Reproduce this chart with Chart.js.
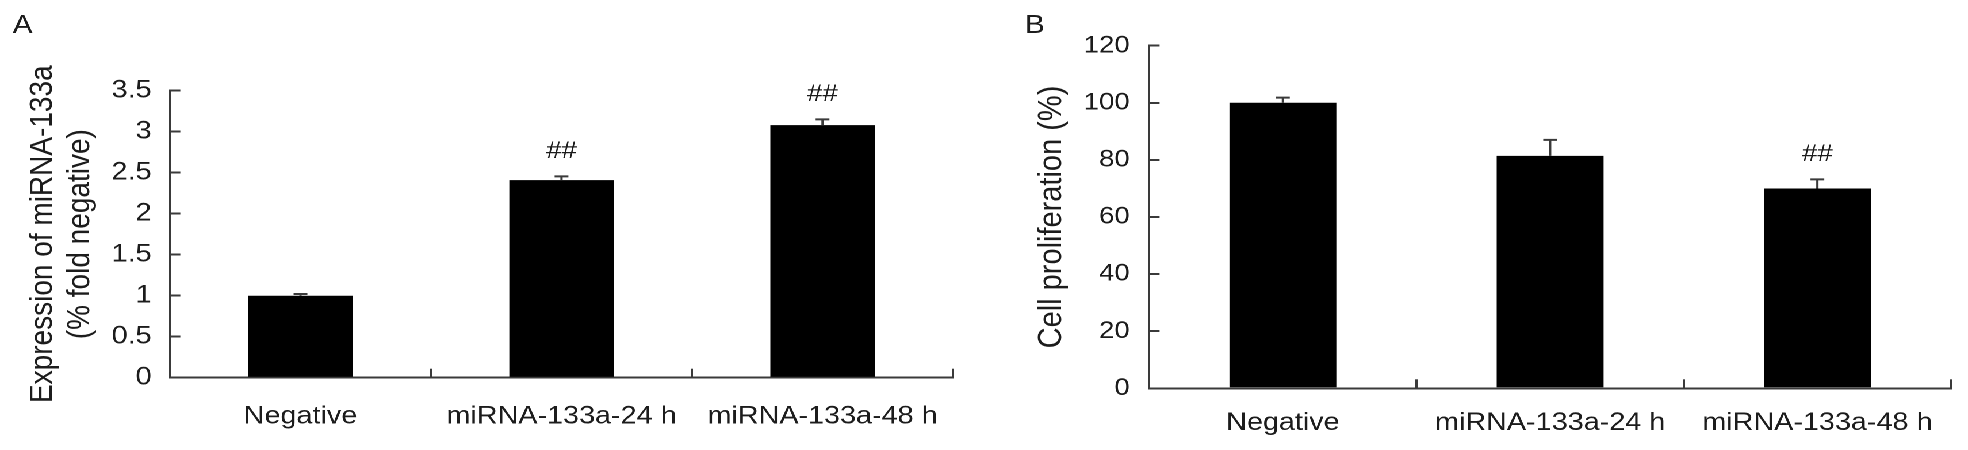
<!DOCTYPE html>
<html>
<head>
<meta charset="utf-8">
<script src="https://cdn.jsdelivr.net/npm/chart.js@4/dist/chart.umd.min.js"></script>
<style>
  html, body { margin: 0; padding: 0; background: #fff; }
  body { width: 1968px; height: 450px; overflow: hidden; }
  #wrap { position: absolute; left: 0; top: 0; width: 1711px; height: 450px;
          transform: scaleX(1.15020); transform-origin: 0 0; }
  #cA { position: absolute; left: 0; top: 0; width: 856px; height: 450px; }
  #cB { position: absolute; left: 856px; top: 0; width: 855px; height: 450px; }
</style>
</head>
<body>
<div id="wrap">
  <canvas id="cA" width="856" height="450"></canvas>
  <canvas id="cB" width="855" height="450"></canvas>
</div>
<script>
// ---- data ----
const categories = ['Negative', 'miRNA-133a-24 h', 'miRNA-133a-48 h'];

const expressionMeans  = [1.0, 2.41, 3.08];
const expressionErrors = [0.02, 0.045, 0.07];
const expressionMarks  = ['', '##', '##'];
const expressionTicks  = [0, 0.5, 1, 1.5, 2, 2.5, 3, 3.5];
const expressionTitle  = ['Expression of miRNA-133a', '(% fold negative)'];

const proliferationMeans  = [100, 81.4, 70];
const proliferationErrors = [1.8, 5.6, 3.2];
const proliferationMarks  = ['', '', '##'];
const proliferationTicks  = [0, 20, 40, 60, 80, 100, 120];
const proliferationTitle  = 'Cell proliferation (%)';

const panelLetters = ['A', 'B'];

// ---- style ----
const FONT = "'Liberation Sans', Arial, sans-serif";
const TEXT = '#1c1c1c';
const AXIS = '#3a3a3a';

const errorBarPlugin = {
  id: 'errorBars',
  afterDatasetsDraw(chart, args, opts) {
    const ctx = chart.ctx;
    const y = chart.scales.y;
    const meta = chart.getDatasetMeta(0);
    ctx.save();
    ctx.strokeStyle = AXIS;
    ctx.lineWidth = 2;
    meta.data.forEach((bar, i) => {
      const v = opts.means[i], e = opts.errors[i];
      const yTop = y.getPixelForValue(v + e);
      const yBase = y.getPixelForValue(v);
      ctx.beginPath();
      ctx.moveTo(bar.x, yBase);
      ctx.lineTo(bar.x, yTop);
      ctx.moveTo(bar.x - 6, yTop);
      ctx.lineTo(bar.x + 6, yTop);
      ctx.stroke();
      const mark = opts.marks[i];
      if (mark) {
        ctx.fillStyle = TEXT;
        ctx.font = `24px ${FONT}`;
        ctx.textAlign = 'center';
        ctx.textBaseline = 'middle';
        ctx.fillText(mark, bar.x, yTop - 25);
      }
    });
    ctx.restore();
  }
};

const letterPlugin = {
  id: 'panelLetter',
  afterDraw(chart, args, opts) {
    const ctx = chart.ctx;
    ctx.save();
    ctx.fillStyle = TEXT;
    ctx.font = `26px ${FONT}`;
    ctx.textAlign = 'left';
    ctx.textBaseline = 'alphabetic';
    ctx.fillText(opts.text, opts.x, opts.y);
    ctx.restore();
  }
};

function makeChart(canvasId, cfg) {
  return new Chart(document.getElementById(canvasId), {
    type: 'bar',
    data: {
      labels: categories,
      datasets: [{
        data: cfg.means,
        backgroundColor: '#000',
        borderWidth: 0,
        barPercentage: 0.4,
        categoryPercentage: 1.0
      }]
    },
    options: {
      responsive: false,
      animation: false,
      devicePixelRatio: 2,
      layout: { padding: { left: 0, top: cfg.top, right: cfg.right, bottom: 0 } },
      plugins: {
        legend: { display: false },
        tooltip: { enabled: false },
        errorBars: { means: cfg.means, errors: cfg.errors, marks: cfg.marks },
        panelLetter: { text: cfg.letter, x: cfg.letterX, y: 33 }
      },
      scales: {
        x: {
          afterFit: s => { s.height = 450 - cfg.bottom; },
          grid: { display: true, drawOnChartArea: false, drawTicks: true, tickLength: -9, color: AXIS, lineWidth: 2, offset: true },
          border: { display: true, color: AXIS, width: 2 },
          ticks: { color: TEXT, font: { family: FONT, size: 25 }, padding: cfg.xPad, maxRotation: 0, autoSkip: false }
        },
        y: {
          min: cfg.ticks[0],
          max: cfg.ticks[cfg.ticks.length - 1],
          afterFit: s => { s.width = cfg.left; },
          afterBuildTicks: s => { s.ticks = cfg.ticks.map(v => ({ value: v })); },
          grid: { display: true, drawOnChartArea: false, drawTicks: true, tickLength: -9, color: AXIS, lineWidth: 2 },
          border: { display: true, color: AXIS, width: 2 },
          ticks: { color: TEXT, font: { family: FONT, size: cfg.tickSize }, padding: cfg.yPad, callback: v => String(v) },
          title: {
            display: true,
            text: cfg.title,
            color: TEXT,
            font: { family: FONT, size: cfg.titleSize, lineHeight: cfg.titleLH },
            padding: { top: cfg.titlePad, bottom: 0 }
          }
        }
      }
    },
    plugins: [errorBarPlugin, letterPlugin]
  });
}

makeChart('cA', {
  means: expressionMeans, errors: expressionErrors, marks: expressionMarks,
  ticks: expressionTicks, title: expressionTitle, letter: panelLetters[0], letterX: 11,
  left: 147.8, right: 27.4, top: 90.7, bottom: 377.7,
  xPad: 33, yPad: 25, tickSize: 25, titleSize: 28, titleLH: 1.15, titlePad: 21.3
});

makeChart('cB', {
  means: proliferationMeans, errors: proliferationErrors, marks: proliferationMarks,
  ticks: proliferationTicks, title: proliferationTitle, letter: panelLetters[1], letterX: 35,
  left: 143.2, right: 11.3, top: 45.7, bottom: 388.3,
  xPad: 29, yPad: 26, tickSize: 24, titleSize: 29, titleLH: 1.2, titlePad: 41
});
</script>
</body>
</html>
